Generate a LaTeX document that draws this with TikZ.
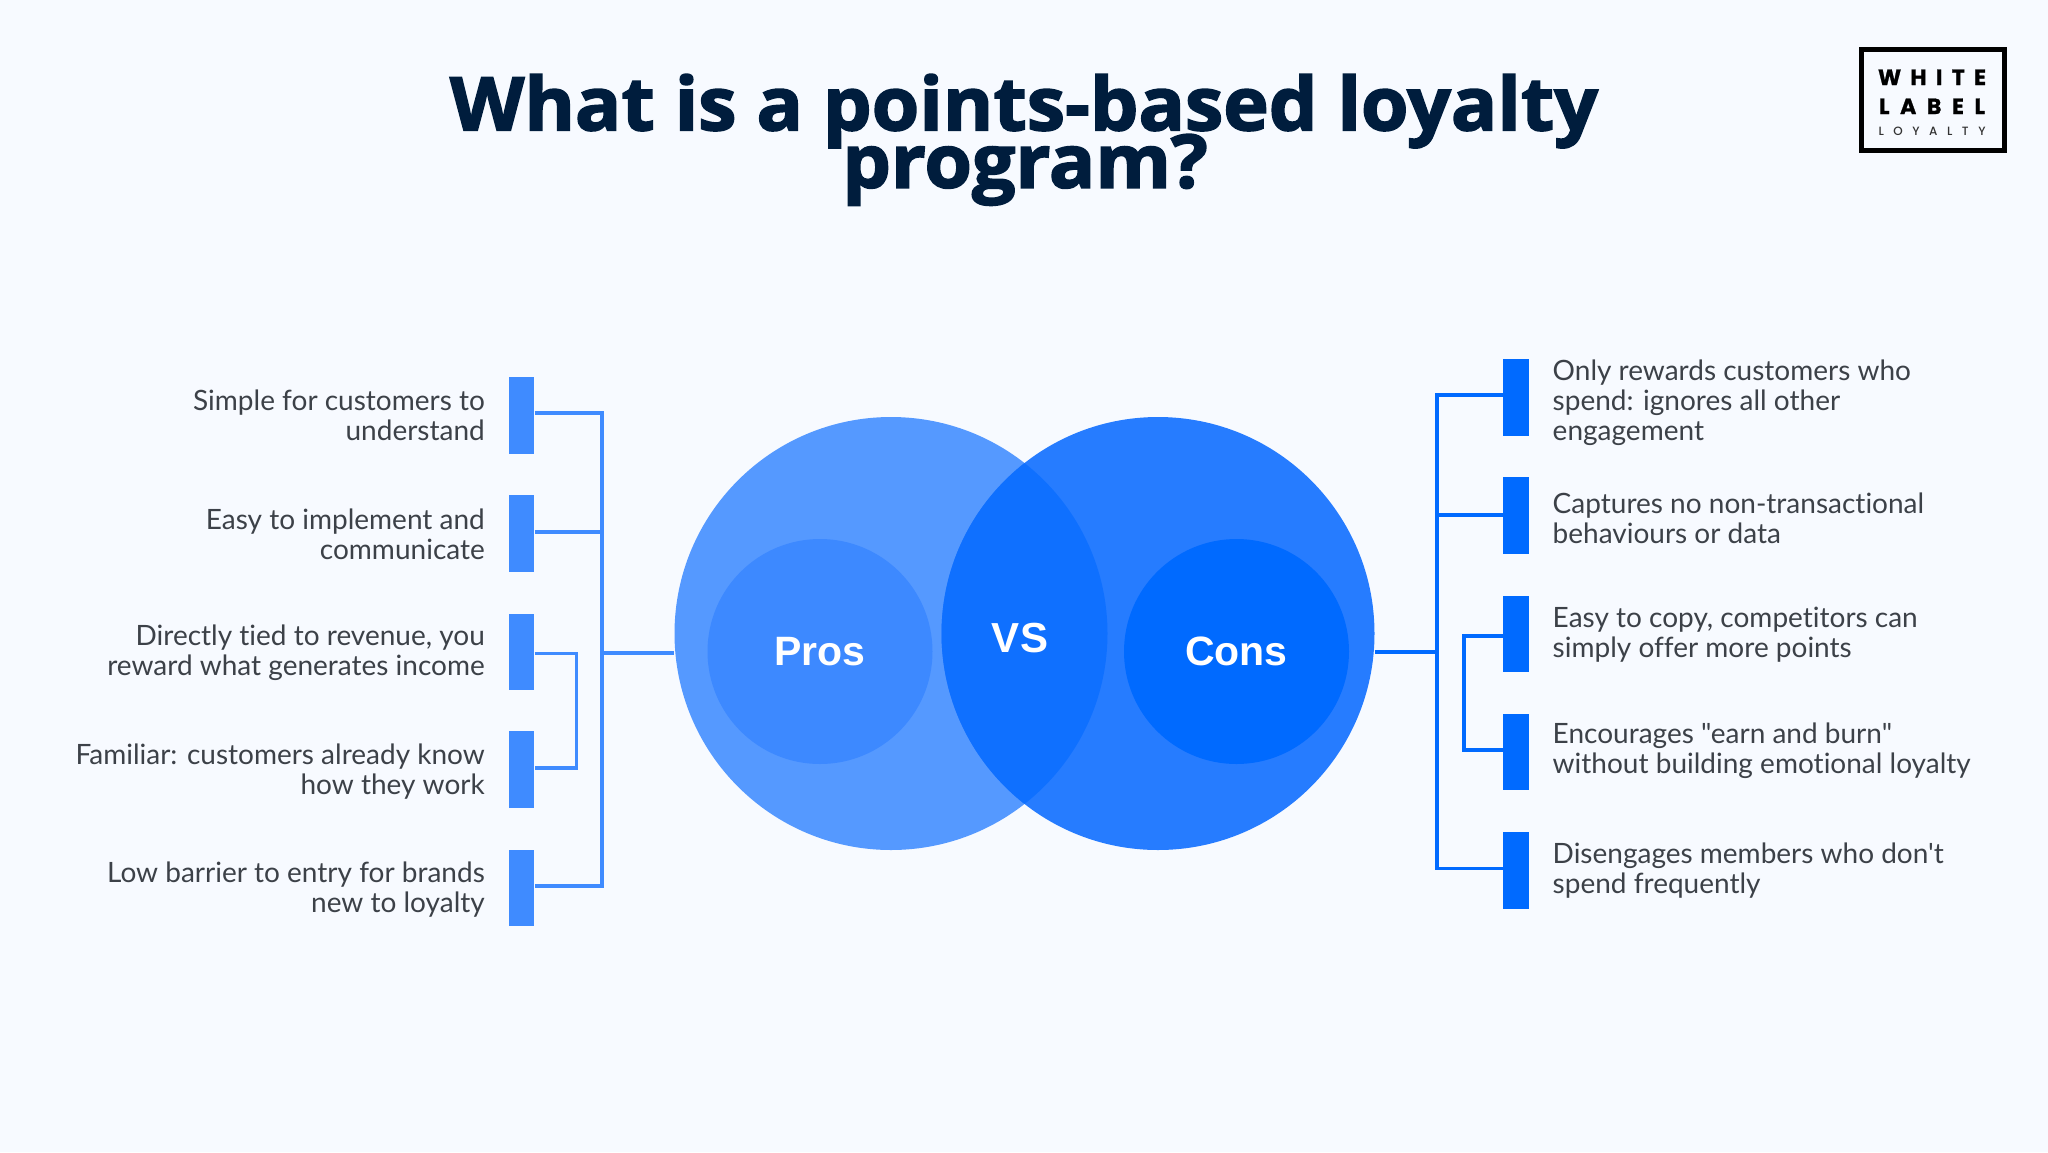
\documentclass[tikz,border=0pt]{standalone}
\usepackage{fontspec}
\setmainfont{Lato}[Ligatures={TeXOff,CommonOff}]
\newfontfamily\titlefont[FakeBold=2.2,FakeStretch=1.04]{Open Sans Bold}
\newfontfamily\circfont{Liberation Sans Bold}
\newfontfamily\logofont[FakeBold=1.0]{Poppins Bold}
\newfontfamily\logolight{Poppins Medium}
\definecolor{bgc}{HTML}{F7FAFF}
\definecolor{titlec}{HTML}{001D3D}
\definecolor{txtc}{HTML}{3C4148}
\definecolor{lblue}{HTML}{3F8BFF}
\definecolor{rblue}{HTML}{006AFF}
\definecolor{cleft}{HTML}{5599FF}
\definecolor{cright}{HTML}{267CFF}
\definecolor{cover}{HTML}{0F70FF}
\definecolor{cinl}{HTML}{3D89FF}
\tikzset{
 x=1pt,y=-1pt,
 item/.style={font=\fontsize{28}{30}\selectfont,text=txtc,inner sep=0pt},
 litem/.style={item,anchor=east,align=right},
 ritem/.style={item,anchor=west,align=left},
 lbar/.style={fill=lblue,draw=none,minimum width=25.5pt,minimum height=76.5pt,inner sep=0pt},
 rbar/.style={fill=rblue,draw=none,minimum width=25.5pt,minimum height=76.5pt,inner sep=0pt},
 lcon/.style={draw=lblue,line width=3.5pt,line join=miter},
 rcon/.style={draw=rblue,line width=3.5pt,line join=miter},
 circlab/.style={font=\circfont\fontsize{41}{41}\selectfont,text=white,inner sep=0pt},
 titletxt/.style={font=\titlefont\fontsize{74}{74}\selectfont,text=titlec,anchor=base,inner sep=0pt},
}
\newcommand{\spreadword}[2]{\hbox to #1{#2}}
\begin{document}
\begin{tikzpicture}
\fill[bgc] (0,0) rectangle (2048,1152);
\useasboundingbox (0,0) rectangle (2048,1152);

% title
\node[titletxt] (titlea) at (1024,130.3) {What is a points-based loyalty};
\node[titletxt] (titleb) at (1025,187.7) {program?};

% logo
\node[draw=black,line width=4.3pt,minimum width=143pt,minimum height=101pt,inner sep=0pt] (logo) at (1933,100) {};
\node[font=\logofont\fontsize{22}{22}\selectfont,text=black,inner sep=0pt,anchor=base] (logoa) at (1932,85) {\spreadword{108pt}{W\hfil H\hfil I\hfil T\hfil E}};
\node[font=\logofont\fontsize{22}{22}\selectfont,text=black,inner sep=0pt,anchor=base] (logob) at (1932,114) {\spreadword{106pt}{L\hfil A\hfil B\hfil E\hfil L}};
\node[font=\logolight\fontsize{12}{12}\selectfont,text=black!80,inner sep=0pt,anchor=base] (logoc) at (1932,135) {\spreadword{107pt}{L\hfil O\hfil Y\hfil A\hfil L\hfil T\hfil Y}};

% bars
\node[lbar] (lb1) at (521.7,415.3) {};
\node[lbar] (lb2) at (521.7,533.5) {};
\node[lbar] (lb3) at (521.7,651.8) {};
\node[lbar] (lb4) at (521.7,769.7) {};
\node[lbar] (lb5) at (521.7,888.2) {};
\node[rbar] (rb1) at (1515.8,397.3) {};
\node[rbar] (rb2) at (1515.8,515.5) {};
\node[rbar] (rb3) at (1515.8,634.1) {};
\node[rbar] (rb4) at (1515.8,751.8) {};
\node[rbar] (rb5) at (1515.8,870.5) {};

% junctions
\coordinate (ltT) at (602,413);
\coordinate (ltM) at (602,532);
\coordinate (ltC) at (602,653);
\coordinate (ltB) at (602,886);
\coordinate (liT) at (576.5,653.5);
\coordinate (liB) at (576.5,768);
\coordinate (rtT) at (1437,395);
\coordinate (rtM) at (1437,515);
\coordinate (rtC) at (1437,652);
\coordinate (rtB) at (1437,868.5);
\coordinate (riT) at (1464,636);
\coordinate (riB) at (1464,750);

% connectors
\path[lcon] (lb1.east |- ltT) -- (ltT) -- (ltB) -- (lb5.east |- ltB);
\path[lcon] (lb2.east |- ltM) -- (ltM);
\path[lcon] (lb3.east |- liT) -- (liT) -- (liB) -- (lb4.east |- liB);
\path[rcon] (rb1.west |- rtT) -- (rtT) -- (rtB) -- (rb5.west |- rtB);
\path[rcon] (rb2.west |- rtM) -- (rtM);
\path[rcon] (rb3.west |- riT) -- (riT) -- (riB) -- (rb4.west |- riB);

% circles
\node[circle,fill=cleft,minimum size=433pt,inner sep=0pt] (cl) at (891,633.5) {};
\node[circle,fill=cright,minimum size=433pt,inner sep=0pt] (cr) at (1158,633.5) {};
\begin{scope}
\clip (891,633.5) circle[radius=216.5];
\fill[cover] (1158,633.5) circle[radius=216.5];
\end{scope}
\node[circle,fill=cinl,minimum size=225pt,inner sep=0pt] (il) at (820,651.5) {};
\node[circle,fill=rblue,minimum size=225pt,inner sep=0pt] (ir) at (1236.5,651.5) {};
\node[circlab] (pros) at (il) {Pros};
\node[circlab] (cons) at (ir) {Cons};
\node[circlab,font=\circfont\fontsize{42}{42}\selectfont] (vs) at (1020,637.7) {VS};

\path[lcon] (ltC) -- (cl.west |- ltC);
\path[rcon] (cr.east |- rtC) -- (rtC);

% texts
\node[litem] (lt1) at (485,415) {Simple for customers to\\understand};
\node[litem] (lt2) at (485,534) {Easy to implement and\\communicate};
\node[litem] (lt3) at (485,652.5) {Directly tied to revenue, you\\reward what generates income};
\node[litem] (lt4) at (485,772) {Familiar: customers already know\\how they work};
\node[litem] (lt5) at (485,890) {Low barrier to entry for brands\\new to loyalty};
\node[ritem] (rt1) at (1552.5,402.3) {Only rewards customers who\\spend: ignores all other\\engagement};
\node[ritem] (rt2) at (1552.5,518) {Captures no non-transactional\\behaviours or data};
\node[ritem] (rt3) at (1552.5,634.5) {Easy to copy, competitors can\\simply offer more points};
\node[ritem] (rt4) at (1552.5,750.3) {Encourages "earn and burn"\\without building emotional loyalty};
\node[ritem] (rt5) at (1552.5,871) {Disengages members who don't\\spend frequently};
\end{tikzpicture}
\end{document}
